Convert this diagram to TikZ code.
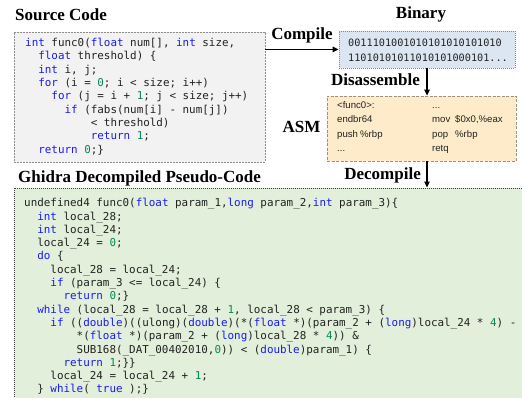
\documentclass[tikz,border=0pt]{standalone}
\usepackage{fontspec}
\setmainfont{Liberation Serif}
\newfontfamily\codefont{DejaVu Sans Mono}
\newfontfamily\asmfont{Liberation Sans}
\usetikzlibrary{arrows.meta}

\definecolor{kwblue}{HTML}{1A1AF5}
\definecolor{numgreen}{HTML}{098658}
\definecolor{codeink}{HTML}{222222}
\definecolor{srcfill}{HTML}{F2F2F2}
\definecolor{srcline}{HTML}{8C8C8C}
\definecolor{binfill}{HTML}{DCE6F2}
\definecolor{binline}{HTML}{7C8A9C}
\definecolor{asmfill}{HTML}{FDEBC9}
\definecolor{asmline}{HTML}{9C917C}
\definecolor{ghfill}{HTML}{E2EFDA}
\definecolor{ghline}{HTML}{404040}

% syntax colouring helpers
\newcommand\kw[1]{\textcolor{kwblue}{#1}}
\newcommand\nm[1]{\textcolor{numgreen}{#1}}
% indentation by n monospace characters
\newcommand\ind[1]{\hspace*{#1\dimexpr0.602em\relax}}
% fixed first-line height so the text top is known
\newcommand\firstline{\rule{0pt}{10pt}}

\begin{document}
\begin{tikzpicture}[x=1pt,y=-1pt,
  title/.style={font=\bfseries\fontsize{17}{20}\selectfont, inner sep=0},
  code/.style={font=\codefont\fontsize{10.9}{13.3}\selectfont, text=codeink,
               align=left, inner sep=0, anchor=north west},
  bincode/.style={font=\codefont\fontsize{10.2}{15}\selectfont, text=codeink,
               align=left, inner sep=0, anchor=north west},
  asmcode/.style={font=\asmfont\fontsize{9.6}{14.2}\selectfont, text=codeink,
               align=left, inner sep=0, anchor=north west},
  flow/.style={line width=1.3pt, -{Triangle[length=6pt,width=5.5pt]}}]

\clip (0,0) rectangle (522,398);

% panels
\node[draw=srcline, fill=srcfill, line width=0.8pt, dash pattern=on 2pt off 1pt,
      inner sep=0, minimum width=251pt, minimum height=130pt]
      (srcbox) at (139.5,97) {};
\node[draw=binline, fill=binfill, line width=0.8pt, dash pattern=on 1pt off 1pt,
      inner sep=0, minimum width=176pt, minimum height=37pt]
      (binbox) at (427,49.5) {};
\node[draw=asmline, fill=asmfill, line width=0.8pt, dash pattern=on 3pt off 1.5pt,
      inner sep=0, minimum width=189pt, minimum height=65pt]
      (asmbox) at (421.5,128.5) {};
\node[draw=ghline, fill=ghfill, line width=0.9pt, dash pattern=on 1pt off 1pt,
      inner sep=0, minimum width=520pt, minimum height=230pt]
      (ghbox) at (274,303) {};

% titles and step labels
\node[title, anchor=base west] (srctitle) at (15,21) {Source Code};
\node[title, anchor=base] (bintitle) at (421,19) {Binary};
\node[title, anchor=base] (asmtitle) at (301.5,133) {ASM};
\node[title, anchor=base west] (ghtitle) at (18,183) {Ghidra Decompiled Pseudo-Code};
\node[title, anchor=base] (compilelbl) at (302,40) {Compile};
\node[title, anchor=base east] (disasmlbl) at (420,86) {Disassemble};
\node[title, anchor=base east] (decomplbl) at (421,180) {Decompile};

% connectors
\draw[flow] (srcbox.east |- binbox.west) -- (binbox.west);
\draw[flow] (binbox.south) -- (binbox.south |- asmbox.north);
\draw[flow] (binbox.south |- asmbox.south) -- (binbox.south |- ghbox.north);

% source code
\node[code] (srccode) at (25,36.5) {%
\firstline\kw{int} func0(\kw{float} num[], \kw{int} size,\\
\ind{2}\kw{float} threshold) \{\\
\ind{2}\kw{int} i, j;\\
\ind{2}\kw{for} (i = \nm{0}; i < size; i++)\\
\ind{4}\kw{for} (j = i + \nm{1}; j < size; j++)\\
\ind{6}\kw{if} (fabs(num[i] - num[j])\\
\ind{10}< threshold)\\
\ind{10}\kw{return} \nm{1};\\
\ind{2}\kw{return} \nm{0};\}};

% binary
\node[bincode] (bincode) at (348,36) {%
\firstline 0011101001010101010101010\\
11010101011010101000101...};

% assembly listing
\node[asmcode] (asmleft) at (337,98.5) {%
\firstline <func0>:\\
endbr64\\
\makebox[23pt][l]{push}\%rbp\\
...};
\node[asmcode] (asmright) at (432,98.5) {%
\firstline ...\\
\makebox[23pt][l]{mov}\$0x0,\%eax\\
\makebox[23pt][l]{pop}\%rbp\\
retq};

% decompiled pseudo-code
\node[code] (ghcode) at (24,196.5) {%
\firstline undefined4 func0(\kw{float} param\_1,\kw{long} param\_2,\kw{int} param\_3)\{\\
\ind{2}\kw{int} local\_28;\\
\ind{2}\kw{int} local\_24;\\
\ind{2}local\_24 = \nm{0};\\
\ind{2}\kw{do} \{\\
\ind{4}local\_28 = local\_24;\\
\ind{4}\kw{if} (param\_3 <= local\_24) \{\\
\ind{6}\kw{return} \nm{0};\}\\
\ind{2}\kw{while} (local\_28 = local\_28 + \nm{1}, local\_28 < param\_3) \{\\
\ind{4}\kw{if} ((\kw{double})((ulong)(\kw{double})(*(\kw{float} *)(param\_2 + (\kw{long})local\_24 * \nm{4}) -\\
\ind{8}*(\kw{float} *)(param\_2 + (\kw{long})local\_28 * \nm{4})) \&\\
\ind{8}SUB168(\textunderscore DAT\_00402010,\nm{0})) < (\kw{double})param\_1) \{\\
\ind{6}\kw{return} \nm{1};\}\}\\
\ind{4}local\_24 = local\_24 + \nm{1};\\
\ind{2}\} \kw{while}( \kw{true} );\}};

\end{tikzpicture}
\end{document}
